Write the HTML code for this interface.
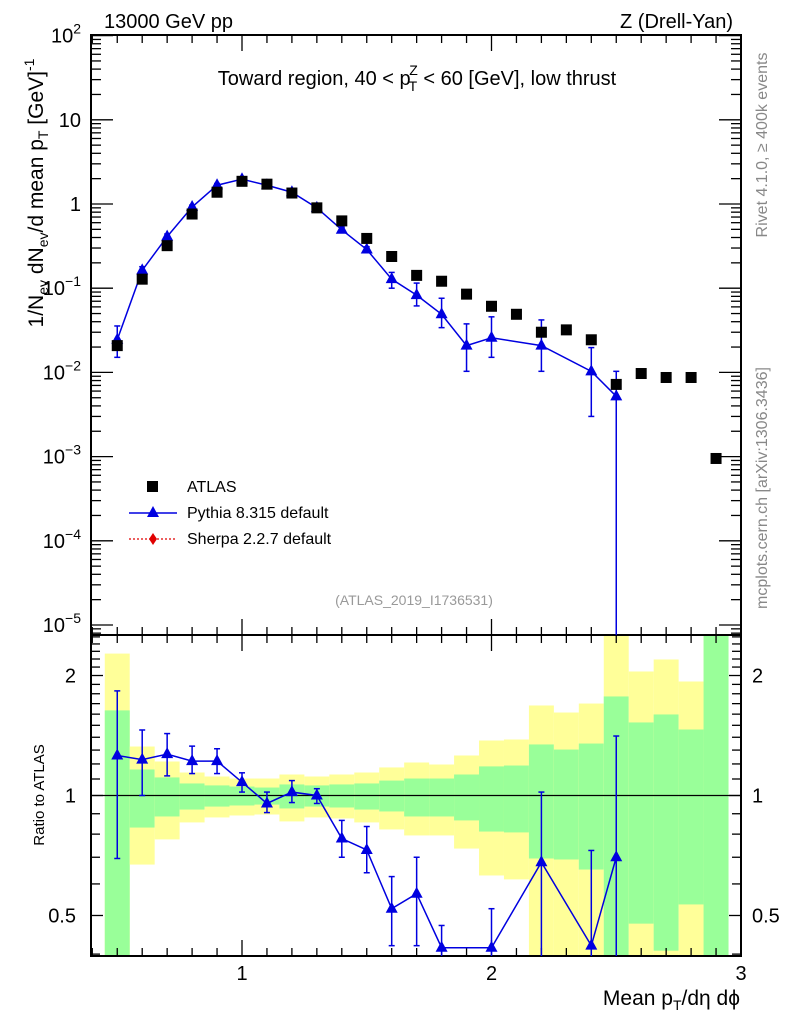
<!DOCTYPE html>
<html><head><meta charset="utf-8"><style>
body{margin:0;background:#fff}
svg text{font-family:"Liberation Sans",Arial,sans-serif}
</style></head><body>
<svg id="chart" width="786" height="1024" xmlns="http://www.w3.org/2000/svg">
<g id="ratio-bands"></g>
<g id="grid"></g>
<g id="series"></g>
<text x="104" y="28" font-size="20">13000 GeV pp</text>
<text x="733" y="28" font-size="20" text-anchor="end">Z (Drell-Yan)</text>
<text x="417" y="85" font-size="20" text-anchor="middle">Toward region, 40 &lt; p<tspan font-size="14" dx="-2" dy="6">T</tspan><tspan font-size="14" dx="-8" dy="-16">Z</tspan><tspan dy="10"> &lt; 60 [GeV], low thrust</tspan></text>
<text x="414" y="605" font-size="14" fill="#999" text-anchor="middle">(ATLAS_2019_I1736531)</text>
<text transform="translate(43,193) rotate(-90)" font-size="21" text-anchor="middle">1/N<tspan font-size="14" dy="5">ev</tspan><tspan dy="-5"> dN</tspan><tspan font-size="14" dy="5">ev</tspan><tspan dy="-5">/d mean p</tspan><tspan font-size="14" dy="5">T</tspan><tspan dy="-5"> [GeV]</tspan><tspan font-size="14" dy="-9">-1</tspan></text>
<text transform="translate(44,795) rotate(-90)" font-size="15" text-anchor="middle">Ratio to ATLAS</text>
<text x="740" y="1005" font-size="21" text-anchor="end">Mean p<tspan font-size="14" dy="5">T</tspan><tspan dy="-5">/dη dϕ</tspan></text>
<text transform="translate(767,145) rotate(-90)" font-size="16" fill="#888" text-anchor="middle">Rivet 4.1.0, ≥ 400k events</text>
<text transform="translate(767,488) rotate(-90)" font-size="16" fill="#888" text-anchor="middle">mcplots.cern.ch [arXiv:1306.3436]</text>
<g>
<rect x="147" y="481" width="11" height="11" fill="#000"/>
<text x="187" y="492" font-size="16">ATLAS</text>
<line x1="129" y1="513" x2="177" y2="513" stroke="#0000e0" stroke-width="1.5"/>
<polygon points="153,506 159,517 147,517" fill="#0000e0"/>
<text x="187" y="518" font-size="16">Pythia 8.315 default</text>
<line x1="129" y1="539" x2="177" y2="539" stroke="#e00000" stroke-width="1.2" stroke-dasharray="2,2"/>
<polygon points="153,533 157,539 153,545 149,539" fill="#e00000"/>
<text x="187" y="544" font-size="16">Sherpa 2.2.7 default</text>
</g>
</svg>
<script>
const xCenters=[0.5,0.6,0.7,0.8,0.9,1.0,1.1,1.2,1.3,1.4,1.5,1.6,1.7,1.8,1.9,2.0,2.1,2.2,2.3,2.4,2.5,2.6,2.7,2.8,2.9];
const atlasValues=[0.0208,0.128,0.32,0.76,1.38,1.86,1.72,1.35,0.90,0.63,0.39,0.238,0.142,0.121,0.085,0.061,0.049,0.030,0.032,0.0244,0.0072,0.0097,0.0087,0.0087,0.00095];
const pythiaX=[0.5,0.6,0.7,0.8,0.9,1.0,1.1,1.2,1.3,1.4,1.5,1.6,1.7,1.8,1.9,2.0,2.2,2.4,2.5];
const pythiaValues=[0.0244,0.163,0.41,0.92,1.67,1.97,1.67,1.38,0.90,0.494,0.288,0.128,0.0827,0.049,0.0208,0.0258,0.0208,0.0103,0.0052];
const pythiaErrHi=[0.0356,0.18,0.44,0.97,1.75,2.1,1.77,1.46,0.95,0.53,0.31,0.154,0.115,0.076,0.0377,0.0457,0.042,0.0197,0.0103];
const pythiaErrLo=[0.0151,0.145,0.38,0.87,1.59,1.85,1.57,1.30,0.85,0.46,0.266,0.10,0.0616,0.034,0.0103,0.0151,0.0103,0.003,0.000001];
const ratioX=[0.5,0.6,0.7,0.8,0.9,1.0,1.1,1.2,1.3,1.4,1.5,1.6,1.7,1.8,2.0,2.2,2.4,2.5];
const ratioValues=[1.26,1.23,1.27,1.22,1.22,1.08,0.955,1.02,1.0,0.78,0.73,0.52,0.567,0.415,0.415,0.68,0.42,0.70];
const ratioErrHi=[1.83,1.46,1.43,1.33,1.31,1.14,1.02,1.09,1.04,0.866,0.836,0.626,0.70,0.472,0.52,1.02,0.728,1.41];
const ratioErrLo=[0.695,1.0,1.12,1.135,1.135,1.02,0.906,0.96,0.955,0.70,0.64,0.42,0.42,0.3,0.3,0.3,0.3,0.3];
const bandYellowHi=[2.27,1.327,1.217,1.142,1.116,1.103,1.103,1.129,1.116,1.129,1.142,1.176,1.21,1.196,1.26,1.374,1.382,1.682,1.615,1.701,3,2.047,2.194,1.932,3];
const bandGreenHi=[1.635,1.162,1.110,1.072,1.06,1.053,1.047,1.066,1.06,1.066,1.072,1.09,1.103,1.103,1.129,1.183,1.189,1.343,1.304,1.35,1.772,1.525,1.597,1.464,3];
const bandGreenLo=[0.3,0.831,0.886,0.922,0.938,0.944,0.949,0.928,0.938,0.933,0.922,0.912,0.886,0.886,0.866,0.812,0.808,0.695,0.691,0.652,0.3,0.477,0.408,0.533,0.3];
const bandYellowLo=[0.3,0.671,0.776,0.856,0.881,0.891,0.896,0.861,0.881,0.876,0.856,0.822,0.794,0.794,0.736,0.630,0.616,0.3,0.3,0.3,0.3,0.3,0.3,0.3,0.3];
const mainTickLabels=["10","10","1","10","10","10","10","10"];
const mainTickExp=[2,null,null,-1,-2,-3,-4,-5];
const mainTickDecades=[2,1,0,-1,-2,-3,-4,-5];
const ratioTickLabels=["2","1","0.5"];
const ratioTickValues=[2,1,0.5];
const xTickLabels=["1","2","3"];
const xTickValues=[1,2,3];

const NS="http://www.w3.org/2000/svg";
const L=91,R=741,MT=35,MB=635,RT=635,RB=956;
const X=v=>242+(v-1)*249.5;
const Y=v=>35.6+(2-Math.log10(v))*84.2;
const RY=v=>Math.max(RT,Math.min(RB,795.5-Math.log10(v)*398.6));
function mk(parent,tag,attrs){const e=document.createElementNS(NS,tag);for(const k in attrs)e.setAttribute(k,attrs[k]);document.getElementById(parent).appendChild(e);return e;}
xCenters.forEach((c,i)=>{
  const x0=X(c-0.05),x1=X(c+0.05);
  let e=mk('ratio-bands','rect',{x:x0,y:RY(bandYellowHi[i]),width:x1-x0,height:RY(bandYellowLo[i])-RY(bandYellowHi[i]),fill:'#ffff99'});
  
  
  e=mk('ratio-bands','rect',{x:x0,y:RY(bandGreenHi[i]),width:x1-x0,height:RY(bandGreenLo[i])-RY(bandGreenHi[i]),fill:'#99ff99'});
  
  
});
mk('grid','line',{x1:L,y1:795.5,x2:R,y2:795.5,stroke:'#000','stroke-width':1.2});
[[MT,MB],[RT,RB]].forEach(([t,b])=>{const e=mk('grid','rect',{x:L,y:t,width:R-L,height:b-t,fill:'none',stroke:'#000','stroke-width':2});});
for(let k=4;k<=30;k++){const v=k/10,x=X(v);if(x<L||x>R)continue;const maj=k%10==0,len=maj?16:8;
 [[MT,1],[MB,-1],[RT,1],[RB,-1]].forEach(([y,d])=>mk('grid','line',{x1:x,y1:y,x2:x,y2:y+d*len,stroke:'#000','stroke-width':1.3}));}
xTickValues.forEach((v,i)=>{const t=mk('grid','text',{x:X(v),y:980,'font-size':20,'text-anchor':'middle'});t.textContent=xTickLabels[i];});
for(let d=-6;d<=2;d++){for(let m=1;m<=9;m++){const v=m*Math.pow(10,d),y=Y(v);if(y<MT-0.5||y>MB)continue;const len=m==1?22:10;
 mk('grid','line',{x1:L,y1:y,x2:L+len,y2:y,stroke:'#000','stroke-width':1.3});mk('grid','line',{x1:R,y1:y,x2:R-len,y2:y,stroke:'#000','stroke-width':1.3});}}
mainTickDecades.forEach((d,i)=>{const y=Y(Math.pow(10,d))+7;const t=mk('grid','text',{x:81,y:y,'font-size':20,'text-anchor':'end'});
 t.textContent=mainTickLabels[i];if(mainTickExp[i]!==null){const s=document.createElementNS(NS,'tspan');s.setAttribute('font-size','14');s.setAttribute('dy','-9');s.textContent=(mainTickExp[i]<0?'−':'')+Math.abs(mainTickExp[i]);t.appendChild(s);}});
for(let k=4;k<=25;k++){const v=k/10,y=RY(v);if(y<=RT||y>=RB)continue;const len=(k==10||k==20||k==5)?12:9;
 mk('grid','line',{x1:L,y1:y,x2:L+len,y2:y,stroke:'#000','stroke-width':1.3});mk('grid','line',{x1:R,y1:y,x2:R-len,y2:y,stroke:'#000','stroke-width':1.3});}
ratioTickValues.forEach((v,i)=>{[[76,'end'],[752,'start']].forEach(([x,a])=>{const t=mk('grid','text',{x:x,y:RY(v)+7,'font-size':20,'text-anchor':a});t.textContent=ratioTickLabels[i];});});
const clampM=y=>Math.min(MB,Math.max(MT,y));
let pts=pythiaX.map((x,i)=>X(x)+','+Y(pythiaValues[i])).join(' ');
let pl=mk('series','polyline',{points:pts,fill:'none',stroke:'#0000e0','stroke-width':1.5});


pythiaX.forEach((x,i)=>{const px=X(x),y1=clampM(Y(pythiaErrHi[i])),y2=clampM(Y(pythiaErrLo[i]));
 mk('series','line',{x1:px,y1:y1,x2:px,y2:y2,stroke:'#0000e0','stroke-width':1.5});
 mk('series','line',{x1:px-3,y1:y1,x2:px+3,y2:y1,stroke:'#0000e0','stroke-width':1.5});
 if(y2<MB)mk('series','line',{x1:px-3,y1:y2,x2:px+3,y2:y2,stroke:'#0000e0','stroke-width':1.5});
 const py=Y(pythiaValues[i]);const p=mk('series','polygon',{points:`${px},${py-7} ${px+6},${py+4} ${px-6},${py+4}`,fill:'#0000e0'});
 
 });
xCenters.forEach((x,i)=>{const r=mk('series','rect',{x:X(x)-5.5,y:Y(atlasValues[i])-5.5,width:11,height:11,fill:'#000'});
 
 });
pts=ratioX.map((x,i)=>X(x)+','+RY(ratioValues[i])).join(' ');
pl=mk('series','polyline',{points:pts,fill:'none',stroke:'#0000e0','stroke-width':1.5});


ratioX.forEach((x,i)=>{const px=X(x),y1=RY(ratioErrHi[i]),y2=RY(ratioErrLo[i]);
 mk('series','line',{x1:px,y1:y1,x2:px,y2:y2,stroke:'#0000e0','stroke-width':1.5});
 mk('series','line',{x1:px-3,y1:y1,x2:px+3,y2:y1,stroke:'#0000e0','stroke-width':1.5});
 if(y2<RB)mk('series','line',{x1:px-3,y1:y2,x2:px+3,y2:y2,stroke:'#0000e0','stroke-width':1.5});
 const py=RY(ratioValues[i]);const p=mk('series','polygon',{points:`${px},${py-7} ${px+6},${py+4} ${px-6},${py+4}`,fill:'#0000e0'});
 
 });
</script>
</body></html>
